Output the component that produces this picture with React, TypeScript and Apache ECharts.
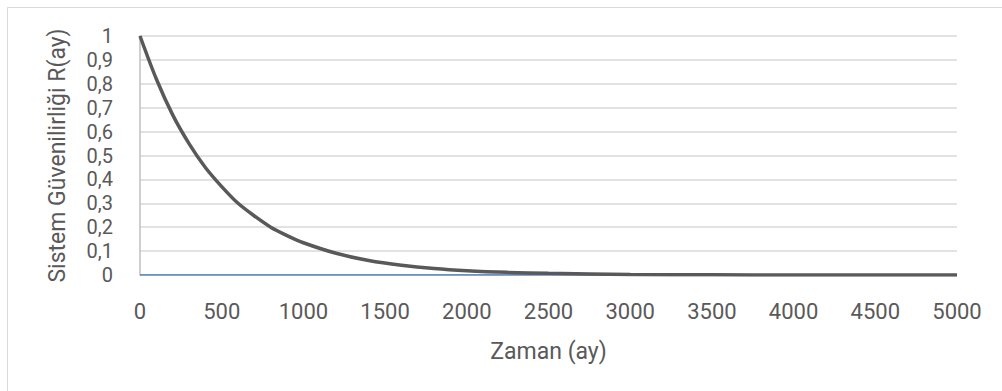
import React, { useEffect, useRef } from "react";
import * as echarts from "echarts";

const timeValues = [0, 100, 200, 300, 400, 500, 600, 700, 800, 900, 1000, 1200, 1400, 1600, 1800, 2000, 2250, 2500, 3000, 3500, 4000, 4500, 5000];
const reliabilityValues = [1, 0.82, 0.67, 0.55, 0.45, 0.37, 0.3, 0.247, 0.2, 0.165, 0.135, 0.091, 0.061, 0.041, 0.027, 0.018, 0.011, 0.007, 0.0025, 0.0009, 0.0003, 0.0001, 0.00005];
const baselineTimes = [0, 5000];
const baselineValues = [0, 0];

const xTitle = "Zaman (ay)";
const yTitle = "Sistem Güvenilirliği R(ay)";

const FONT = "Roboto, sans-serif";
const TXT = "#595959";

export default function App() {
  const ref = useRef<HTMLDivElement>(null);
  useEffect(() => {
    if (!ref.current) return;
    const chart = echarts.init(ref.current, undefined, { renderer: "svg" });
    chart.setOption({
      animation: false,
      backgroundColor: "#ffffff",
      textStyle: { fontFamily: FONT },
      grid: { left: 140, right: 45, top: 36, bottom: 116, containLabel: false },
      graphic: [
        {
          type: "rect",
          shape: { x: 7.5, y: 7.5, width: 1020, height: 420 },
          style: { fill: "none", stroke: "#d9d9d9", lineWidth: 1 },
          silent: true,
          z: -10,
        },
      ],
      xAxis: {
        type: "value",
        min: 0,
        max: 5000,
        interval: 500,
        name: xTitle,
        nameLocation: "middle",
        nameGap: 65,
        nameTextStyle: { color: TXT, fontSize: 23, fontFamily: FONT, lineHeight: 23 },
        axisLine: { show: false },
        axisTick: { show: false },
        splitLine: { show: false },
        axisLabel: {
          color: TXT,
          fontSize: 22,
          fontFamily: FONT,
          lineHeight: 22,
          margin: 25,
          formatter: (v: number) => String(v),
        },
      },
      yAxis: {
        type: "value",
        min: 0,
        max: 1,
        interval: 0.1,
        name: yTitle,
        nameLocation: "middle",
        nameGap: 71,
        nameRotate: 90,
        nameTextStyle: { color: TXT, fontSize: 23, fontFamily: FONT, lineHeight: 23 },
        axisLine: { show: true, lineStyle: { color: "#bfbfbf", width: 1.5 } },
        axisTick: { show: false },
        splitLine: { show: true, lineStyle: { color: "#d9d9d9", width: 1.5 } },
        axisLabel: {
          color: TXT,
          fontSize: 20,
          fontFamily: FONT,
          lineHeight: 20,
          margin: 27,
          formatter: (v: number) => String(Math.round(v * 10) / 10).replace(".", ","),
        },
      },
      series: [
        {
          type: "line",
          data: baselineTimes.map((t, i) => [t, baselineValues[i]]),
          showSymbol: false,
          lineStyle: { color: "#4472c4", width: 1.5 },
          z: 2,
        },
        {
          type: "line",
          data: timeValues.map((t, i) => [t, reliabilityValues[i]]),
          showSymbol: false,
          smooth: 0.3,
          lineStyle: { color: "#595959", width: 3.5 },
          z: 3,
        },
      ],
    });
    return () => chart.dispose();
  }, []);
  return (
    <div
      ref={ref}
      style={{ position: "fixed", left: 0, top: 0, width: 1002, height: 391 }}
    />
  );
}
